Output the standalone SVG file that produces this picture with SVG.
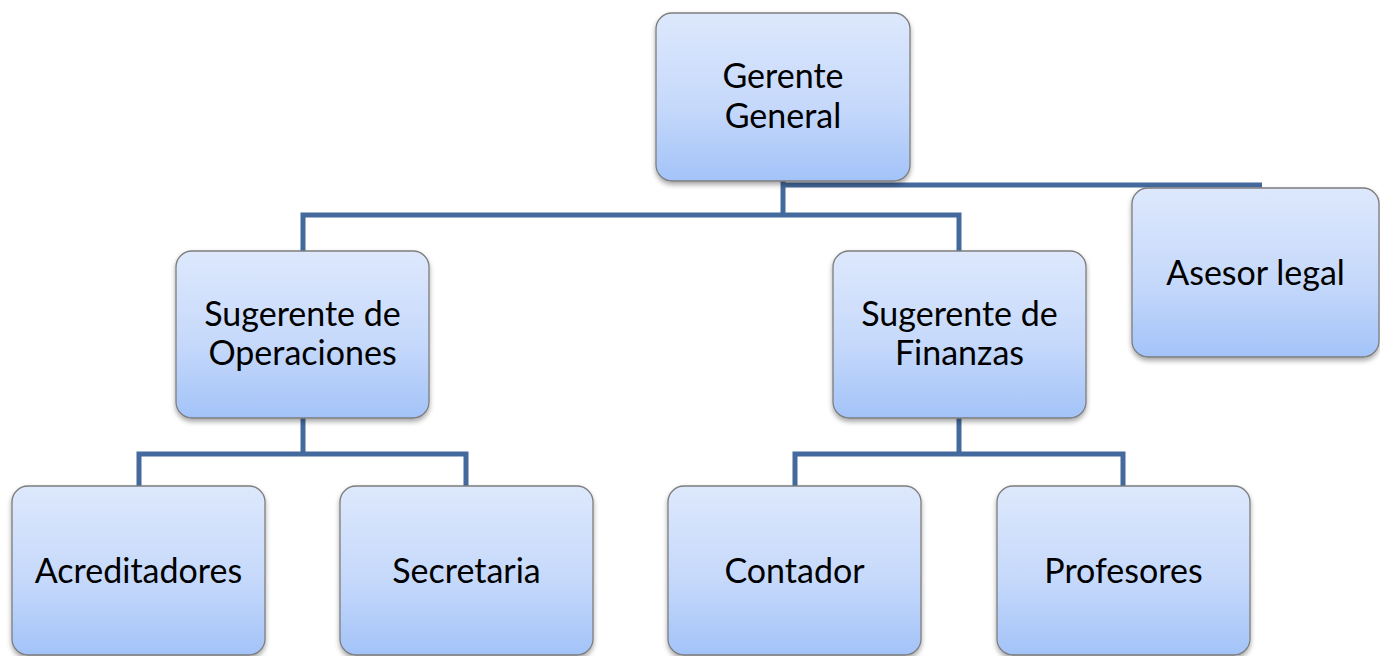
<svg xmlns="http://www.w3.org/2000/svg" width="1380" height="656" viewBox="0 0 1380 656">
<defs>
<linearGradient id="g" x1="0" y1="0" x2="0" y2="1">
<stop offset="0" stop-color="#dde8fc"/>
<stop offset="0.55" stop-color="#c6d9fb"/>
<stop offset="1" stop-color="#a3c3f8"/>
</linearGradient>
<filter id="sh" x="-10%" y="-10%" width="120%" height="125%">
<feDropShadow dx="0" dy="3" stdDeviation="2.5" flood-color="#000" flood-opacity="0.35"/>
</filter>
</defs>
<style>
.box{fill:url(#g);stroke:#7d7d7d;stroke-width:1.3;filter:url(#sh)}
.t{font-family:Lato,"Open Sans","Liberation Sans",sans-serif;font-size:34px;fill:#000;text-anchor:middle}
.c{fill:none;stroke:#44699d;stroke-width:5;stroke-linejoin:miter}
</style>
<rect width="1380" height="656" fill="#fff"/>
<g id="connectors">
<path class="c" d="M783 181 V215"/>
<path class="c" d="M303 251 V215 H959 V251"/>
<path class="c" d="M783 185 H1262"/>
<path class="c" d="M303 418 V454"/>
<path class="c" d="M139 486 V454 H466 V486"/>
<path class="c" d="M959 418 V454"/>
<path class="c" d="M795 486 V454 H1123 V486"/>
</g>
<g id="gerente">
<rect class="box" x="656" y="13" width="254" height="168" rx="16"/>
<text class="t" x="783" y="88">Gerente</text>
<text class="t" x="783" y="128">General</text>
</g>
<g id="asesor">
<rect class="box" x="1132" y="188" width="247" height="169" rx="16"/>
<text class="t" x="1255.5" y="285">Asesor legal</text>
</g>
<g id="operaciones">
<rect class="box" x="176" y="251" width="253" height="167" rx="16"/>
<text class="t" x="302.5" y="326">Sugerente de</text>
<text class="t" x="302.5" y="365">Operaciones</text>
</g>
<g id="finanzas">
<rect class="box" x="833" y="251" width="253" height="167" rx="16"/>
<text class="t" x="959.5" y="326">Sugerente de</text>
<text class="t" x="959.5" y="365">Finanzas</text>
</g>
<g id="acreditadores">
<rect class="box" x="12" y="486" width="253" height="169" rx="16"/>
<text class="t" x="138.5" y="583">Acreditadores</text>
</g>
<g id="secretaria">
<rect class="box" x="340" y="486" width="253" height="169" rx="16"/>
<text class="t" x="466.5" y="583">Secretaria</text>
</g>
<g id="contador">
<rect class="box" x="668" y="486" width="253" height="169" rx="16"/>
<text class="t" x="794.5" y="583">Contador</text>
</g>
<g id="profesores">
<rect class="box" x="997" y="486" width="253" height="169" rx="16"/>
<text class="t" x="1123.5" y="583">Profesores</text>
</g>
</svg>
